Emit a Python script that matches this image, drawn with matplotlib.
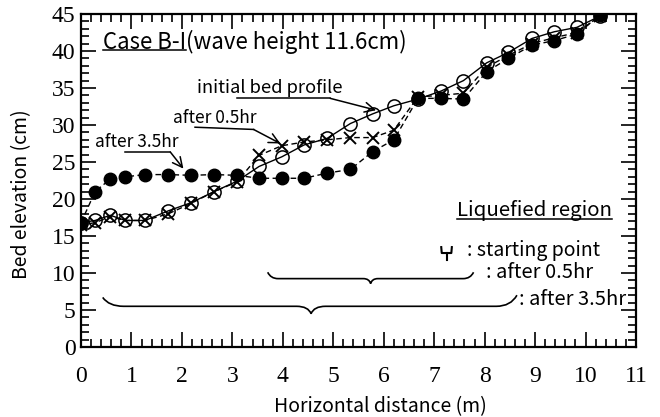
import matplotlib
matplotlib.use("Agg")
import matplotlib.pyplot as plt
from matplotlib.path import Path
from matplotlib.patches import PathPatch
from matplotlib.ticker import MultipleLocator

# ---------------- data ----------------
x_pos = [0, 0.28, 0.58, 0.88, 1.27, 1.73, 2.18, 2.64, 3.09, 3.53, 3.98, 4.42,
         4.88, 5.34, 5.78, 6.2, 6.68, 7.14, 7.58, 8.04, 8.47, 8.94, 9.38, 9.83, 10.28]
initial = [16.8, 17.1, 17.8, 17.1, 17.1, 18.4, 19.5, 21.0, 22.4, 24.4, 25.7, 27.3,
           28.2, 30.2, 31.5, 32.6, 33.5, 34.6, 36.0, 38.4, 39.8, 41.7, 42.6, 43.2, 44.7]
after_05 = [16.5, 16.8, 17.6, 17.1, 17.1, 18.0, 19.4, 21.0, 22.3, 25.9, 27.2, 27.7,
            28.0, 28.3, 28.3, 29.3, 33.8, 34.0, 34.3, 37.8, 39.4, 41.0, 41.8, 42.5, 44.7]
after_35 = [16.8, 21.0, 22.7, 23.0, 23.3, 23.3, 23.2, 23.3, 23.2, 22.8, 22.8, 22.8,
            23.5, 24.0, 26.4, 28.0, 33.6, 33.6, 33.5, 37.2, 39.0, 40.8, 41.4, 42.3, 44.8]

x_ticks = list(range(0, 12))
y_ticks = list(range(0, 50, 5))

SANS = ["Noto Sans CJK JP", "DejaVu Sans"]
SERIF = "Liberation Serif"

fig = plt.figure(figsize=(6.6, 4.17), dpi=100)
ax = fig.add_axes([81/660, 1-347/417, (636-81)/660, (347-14)/417])

ax.plot(x_pos, initial, color="black", lw=1.0, marker="o", ms=9.5,
        mfc="none", mec="black", mew=1.1, zorder=3)
ax.plot(x_pos, after_05, color="black", lw=1.0, ls=(0, (4, 2.5)), marker="x",
        ms=9, mew=1.4, zorder=3)
ax.plot(x_pos, after_35, color="black", lw=1.0, ls=(0, (4, 2.5)), marker="o",
        ms=9, mfc="black", mec="black", zorder=4)

ax.set_xlim(0, 11)
ax.set_ylim(0, 45)
ax.set_xticks(x_ticks)
ax.set_yticks(y_ticks)
ax.xaxis.set_minor_locator(MultipleLocator(0.2))
ax.yaxis.set_minor_locator(MultipleLocator(1))
ax.tick_params(which="both", direction="in", top=True, right=True, width=1.2)
ax.tick_params(which="major", length=11)
ax.tick_params(which="minor", length=5.5)
ax.tick_params(axis="x", which="major", pad=14)
ax.tick_params(axis="y", which="major", pad=4)
for lab in ax.get_xticklabels() + ax.get_yticklabels():
    lab.set_fontfamily(SERIF)
    lab.set_fontsize(17)
for s in ax.spines.values():
    s.set_linewidth(1.6)

ax.set_xlabel("Horizontal distance (m)", family=SANS, fontsize=14)
ax.xaxis.set_label_coords(0.539, -0.148)
ax.set_ylabel("Bed elevation (cm)", family=SANS, fontsize=14)
ax.yaxis.set_label_coords(-0.088, 0.46)

# ---------------- annotations ----------------
t1 = ax.text(0.44, 41.2, "Case B-I", family=SANS, fontsize=16, va="center", ha="left")
t2 = ax.annotate("(wave height 11.6cm)", xy=(1, 0), xycoords=t1, va="bottom",
                 ha="left", family=SANS, fontsize=16)
t3 = ax.text(10.52, 18.5, "Liquefied region", family=SANS, fontsize=14.7,
             va="center", ha="right")

ax.text(2.3, 34.97, "initial bed profile", family=SANS, fontsize=13.2, va="center")
ax.text(1.83, 30.9, "after 0.5hr", family=SANS, fontsize=12.5, va="center")
ax.text(0.28, 27.7, "after 3.5hr", family=SANS, fontsize=12.5, va="center")

ax.text(7.66, 13.05, ": starting point", family=SANS, fontsize=14, va="center")
ax.text(8.02, 10.0, ": after 0.5hr", family=SANS, fontsize=14.5, va="center")
ax.text(8.69, 6.45, ": after 3.5hr", family=SANS, fontsize=14.5, va="center")

arrow_kw = dict(arrowstyle="->,head_length=0.7,head_width=0.35", color="black", lw=1.1,
                shrinkA=0, shrinkB=0)
# initial bed profile arrow
ax.plot([3.09, 4.94], [33.6, 33.6], color="black", lw=1.1)
ax.annotate("", xy=(5.85, 32.0), xytext=(4.94, 33.6), arrowprops=arrow_kw)
# after 0.5hr arrow
ax.plot([2.26, 3.42], [29.7, 29.4], color="black", lw=1.1)
ax.annotate("", xy=(3.95, 27.5), xytext=(3.42, 29.4), arrowprops=arrow_kw)
# after 3.5hr arrow
ax.plot([0.87, 1.77], [26.35, 26.35], color="black", lw=1.1)
ax.annotate("", xy=(2.03, 24.1), xytext=(1.77, 26.35), arrowprops=arrow_kw)


def brace(x1, xm, x2, y_flat, y_tip1, y_tip2, y_cusp, lw=1.2):
    d1 = (xm - x1) * 0.1
    d2 = (x2 - xm) * 0.1
    dm = min(xm - x1, x2 - xm) * 0.07
    verts = [(x1, y_tip1), (x1 + d1 * 0.3, y_flat), (x1 + d1, y_flat),
             (xm - dm, y_flat), (xm - dm * 0.2, y_flat), (xm, y_cusp),
             (xm + dm * 0.2, y_flat), (xm + dm, y_flat),
             (x2 - d2, y_flat), (x2 - d2 * 0.3, y_flat), (x2, y_tip2)]
    codes = [Path.MOVETO, Path.CURVE3, Path.CURVE3,
             Path.LINETO, Path.CURVE3, Path.CURVE3,
             Path.CURVE3, Path.CURVE3,
             Path.LINETO, Path.CURVE3, Path.CURVE3]
    ax.add_patch(PathPatch(Path(verts, codes), fill=False, lw=lw, color="black",
                           clip_on=False))


brace(3.7, 5.74, 7.78, 9.24, 10.1, 10.1, 8.57)
brace(0.43, 4.56, 8.64, 5.5, 6.7, 7.0, 4.5)
# starting point symbol
ax.plot([7.14, 7.15, 7.34, 7.35], [13.5, 12.7, 12.7, 13.5], color="black", lw=1.5)
ax.plot([7.245, 7.245], [12.7, 11.7], color="black", lw=1.5)

# underlines
fig.canvas.draw()
r = fig.canvas.get_renderer()
inv = ax.transData.inverted()
for t, yu in ((t1, 40.1), (t3, 17.35)):
    bb = t.get_window_extent(r)
    xa = inv.transform((bb.x0, 0))[0]
    xb = inv.transform((bb.x1, 0))[0]
    ax.plot([xa, xb], [yu, yu], color="black", lw=1.1)

fig.savefig("out.png", dpi=100)
